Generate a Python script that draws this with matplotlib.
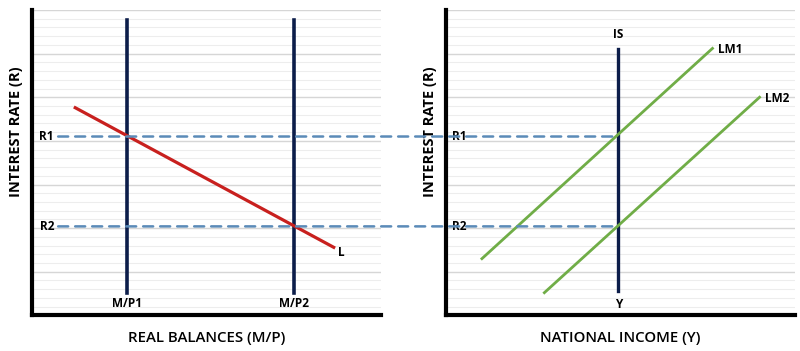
import numpy as np
import matplotlib.pyplot as plt
from matplotlib.patches import ConnectionPatch

plt.rcParams['font.family'] = ['Open Sans', 'DejaVu Sans']

# interest rates
r1 = 20.5
r2 = 10.2

# money market (left)
mp_x = [27.3, 75.0]          # M/P1, M/P2
mp_labels = ['M/P1', 'M/P2']
mp_span = [2.6, 33.8]
L_x = [12.4, 86.5]
L_y = [23.8, 7.8]

# IS-LM (right)
is_x = 49.4
is_span = [2.8, 30.5]
lm1_x = [10.3, 76.4]
lm1_y = [6.5, 30.6]
lm2_x = [28.2, 89.9]
lm2_y = [2.6, 25.0]

navy = '#0c1d4a'
red = '#c8201e'
green = '#70ad47'
blue = '#5b8bb8'

fig = plt.figure(figsize=(8, 3.51), dpi=100)
ax1 = fig.add_axes([0.040, 0.1015, 0.436, 0.8700])
ax2 = fig.add_axes([0.5575, 0.1015, 0.436, 0.8700])

small = dict(fontsize=8.5, fontweight='bold')

for ax in (ax1, ax2):
    ax.set_xlim(0, 100)
    ax.set_ylim(0, 35)
    ax.set_yticks(np.arange(0, 36, 5))
    ax.set_yticks(np.arange(0, 36, 1), minor=True)
    ax.set_xticks([])
    ax.tick_params(which='both', length=0, labelleft=False)
    ax.grid(which='major', axis='y', color='#d6d6d6', lw=1.0)
    ax.grid(which='minor', axis='y', color='#ededed', lw=0.8)
    ax.set_axisbelow(True)
    for s in ('top', 'right'):
        ax.spines[s].set_visible(False)
    for s in ('left', 'bottom'):
        ax.spines[s].set_linewidth(3)
        ax.spines[s].set_color('black')
    ax.set_ylabel('INTEREST RATE (R)', fontsize=10.5, fontweight='bold')
    ax.yaxis.set_label_coords(-0.027, 0.60)

ax1.set_xlabel('REAL BALANCES (M/P)', fontsize=10.8, fontweight='semibold', labelpad=11)
ax2.set_xlabel('NATIONAL INCOME (Y)', fontsize=10.8, fontweight='semibold', labelpad=11)

# left panel
for x, lab in zip(mp_x, mp_labels):
    ax1.plot([x, x], mp_span, color=navy, lw=2.6, zorder=3)
    ax1.text(x, 1.4, lab, ha='center', va='center', **small)
ax1.plot(L_x, L_y, color=red, lw=2.3, zorder=4)
ax1.text(L_x[1] + 1.3, L_y[1] - 0.6, 'L', ha='left', va='center', **small)
ax1.text(4.0, r1, 'R1', ha='center', va='center', **small)
ax1.text(4.3, r2, 'R2', ha='center', va='center', **small)

# right panel
ax2.plot([is_x, is_x], is_span, color=navy, lw=2.4, zorder=3)
ax2.text(is_x, 32.2, 'IS', ha='center', va='center', **small)
ax2.text(is_x, 1.2, 'Y', ha='center', va='center', **small)
ax2.plot(lm1_x, lm1_y, color=green, lw=2.0, zorder=4)
ax2.plot(lm2_x, lm2_y, color=green, lw=2.0, zorder=4)
ax2.text(lm1_x[1] + 1.5, lm1_y[1] - 0.1, 'LM1', ha='left', va='center', **small)
ax2.text(lm2_x[1] + 1.5, lm2_y[1] - 0.1, 'LM2', ha='left', va='center', **small)
ax2.text(3.8, r1, 'R1', ha='center', va='center', zorder=6, **small)
ax2.text(3.8, r2, 'R2', ha='center', va='center', zorder=6, **small)

# dashed rate lines running across both panels
for r in (r1, r2):
    con = ConnectionPatch(xyA=(7.5, r), coordsA=ax1.transData,
                          xyB=(is_x, r), coordsB=ax2.transData,
                          color=blue, lw=1.8, linestyle=(0, (4, 2.8)), zorder=2)
    fig.add_artist(con)

fig.savefig('out.png', dpi=100)
